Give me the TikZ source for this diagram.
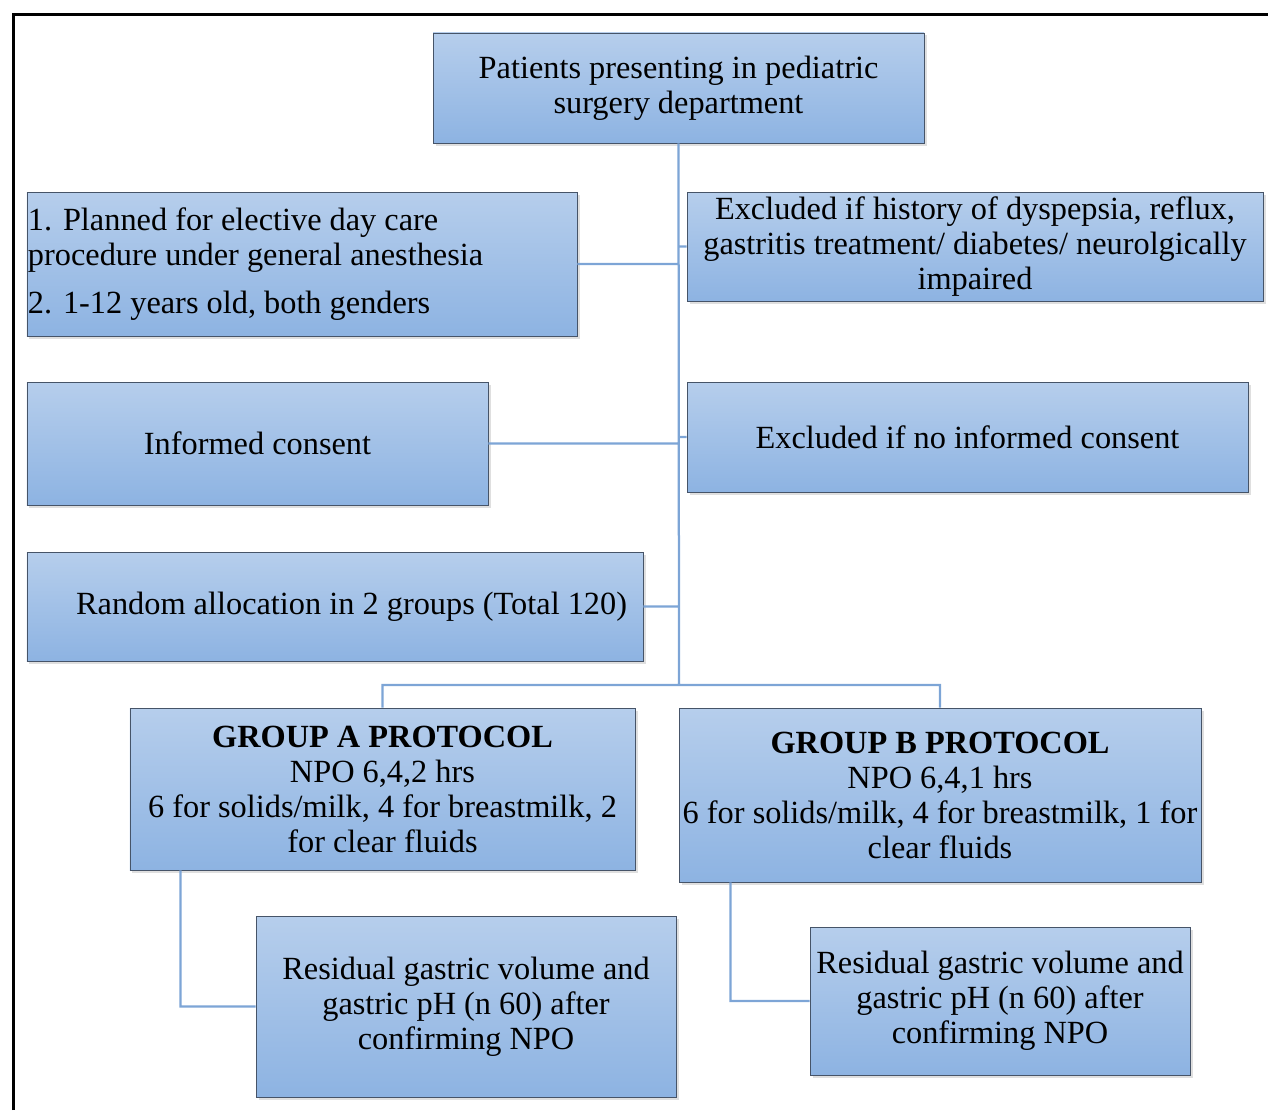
\documentclass[tikz,border=0pt]{standalone}
\usepackage{fontspec}
\setmainfont{Liberation Serif}
\usepackage{tikz}
\usetikzlibrary{positioning,shadows}
\tikzset{flowbox/.style={draw=boxline, line width=0.5pt, top color=boxtop, bottom color=boxbot,
    inner sep=0pt, align=center, font=\fontsize{18.4}{19.9}\selectfont,
    drop shadow={shadow xshift=0.5mm,shadow yshift=-0.5mm,opacity=0.25}},
  link/.style={draw=linkblue, line width=0.45mm}}
\newcommand{\flowbox}[4][]{\node[flowbox,#1] (#2) at (#3) {#4}}

\begin{document}
\begin{tikzpicture}[x=0.2mm,y=-0.2mm]
        \definecolor{boxtop}{RGB}{182,206,236}
        \definecolor{boxbot}{RGB}{141,179,226}
        \definecolor{boxline}{RGB}{70,84,104}
        \definecolor{linkblue}{RGB}{125,165,214}
        \useasboundingbox (0,0) rectangle (1268,1110);
        \draw[line width=0.6mm] (13,1110) -- (13,15) -- (1268,15);

        \flowbox[minimum width=98.2mm,minimum height=22mm]{patients}{678.5,88}{Patients presenting in pediatric\\surgery department};
        \flowbox[minimum height=28.8mm,text width=109.6mm,align=flush left,inner xsep=0.2mm]{crit}{302,264}{1. Planned for elective day care\\procedure under general anesthesia\\[2.6mm]2. 1-12 years old, both genders};
        \flowbox[minimum width=115.2mm,minimum height=21.8mm]{excl1}{975,246.5}{Excluded if history of dyspepsia, reflux,\\gastritis treatment/ diabetes/ neurolgically\\impaired};
        \flowbox[minimum width=92.2mm,minimum height=24.6mm]{consent}{257.5,443.5}{Informed consent};
        \flowbox[minimum width=112.2mm,minimum height=22mm]{excl2}{967.5,437}{Excluded if no informed consent};
        \flowbox[minimum height=21.8mm,text width=116.8mm,align=flush right,inner xsep=3.2mm]{random}{335,606.5}{Random allocation in 2 groups (Total 120)};
        \flowbox[minimum width=101mm,minimum height=32.4mm]{grpA}{382.5,789}{\textbf{GROUP A PROTOCOL}\\NPO 6,4,2 hrs\\6 for solids/milk, 4 for breastmilk, 2\\for clear fluids};
        \flowbox[minimum width=104.4mm,minimum height=34.8mm]{grpB}{940,795}{\textbf{GROUP B PROTOCOL}\\NPO 6,4,1 hrs\\6 for solids/milk, 4 for breastmilk, 1 for\\clear fluids};
        \flowbox[minimum width=84mm,minimum height=36.2mm]{resA}{466,1006.5}{Residual gastric volume and\\gastric pH (n 60) after\\confirming NPO};
        \flowbox[minimum width=76mm,minimum height=29.6mm]{resB}{1000,1001}{Residual gastric volume and\\gastric pH (n 60) after\\confirming NPO};

        \coordinate (split) at (679,685);
        \coordinate (dropA) at ([xshift=10.2mm]grpA.south west);
        \coordinate (dropB) at ([xshift=10.4mm]grpB.south west);
        \draw[link]
        (patients.south) -- (split)
        (crit.east) -- (crit.east -| split)
        (excl1.west) -- (excl1.west -| split)
        (consent.east) -- (consent.east -| split)
        (excl2.west) -- (excl2.west -| split)
        (random.east) -- (random.east -| split)
        (grpA.north) |- (split) -| (grpB.north)
        (dropA) |- (resA.west)
        (dropB) |- (resB.west);

    \end{tikzpicture}
\end{document}
